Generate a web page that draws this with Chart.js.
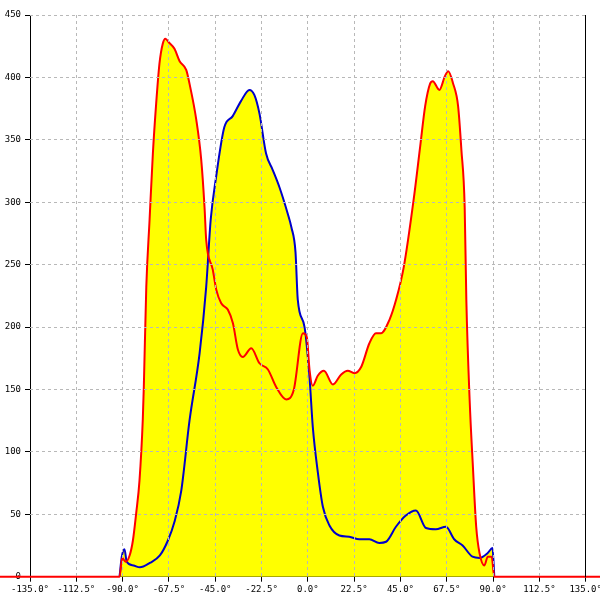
<!DOCTYPE html>
<html>
<head>
<meta charset="utf-8">
<script src="https://cdn.jsdelivr.net/npm/chart.js@4.4.1/dist/chart.umd.min.js"></script>
<style>
  html, body { margin: 0; padding: 0; background: #fff; }
  #wrap { width: 600px; height: 600px; }
</style>
</head>
<body>
<div id="wrap"><canvas id="myChart"></canvas></div>
<script>
// angles in degrees
let redAngles = [-180, -91.5, -90.2, -88.6, -86.6, -85, -83.4, -81.8, -80.2, -79.7, -78.5, -76.9, -75.3, -73.7, -72.1, -70.5, -69.2, -67.5, -64.8, -62.3, -59.1, -57.5, -54.2, -51.8, -50.2, -49.4, -46.2, -44.5, -42.1, -38.9, -36.4, -34, -31.6, -27.5, -23.5, -19.4, -15.4, -10.5, -6.8, -2.4, -0.5, 0.8, 2.4, 4.8, 7.8, 12.2, 16.2, 19.4, 22.6, 25.9, 29.9, 33.1, 35.5, 39.7, 42.9, 46.6, 51.4, 54.6, 57.0, 59.4, 60.7, 63.9, 66.6, 68.2, 70.6, 73.0, 74.6, 76.2, 77.0, 78.6, 80.2, 81.8, 83.4, 85.8, 87.4, 89.3, 90.6, 180];
let redValues = [0, 0, 15, 12, 17, 29, 51, 77, 126, 152, 232, 286, 339, 379, 411, 427, 431, 428, 423, 413, 406, 395, 366, 334, 296, 270, 246, 230, 219, 214, 203, 182, 176, 183, 171, 166, 152, 142, 150, 195, 192, 166, 153, 161, 165, 154, 162, 165, 163, 168, 187, 195, 195, 206, 222, 248, 302, 345, 377, 395, 397, 390, 401, 405, 395, 377, 342, 296, 222, 142, 88, 40, 19, 9, 16, 16, 0, 0];

let blueAngles = [-91.5, -90.4, -89.1, -88, -84.7, -81.6, -76.8, -71.9, -68, -64.8, -61.5, -57.5, -52.6, -49.4, -47.2, -44.6, -40.6, -36.5, -32.5, -28.4, -26, -23.5, -20.3, -17.1, -13.8, -9.8, -8, -6, -4.9, -1.6, 0.8, 2.4, 4.9, 7.3, 10.5, 15.3, 20.1, 25, 29.9, 34.7, 38, 42.8, 47.6, 52.5, 57.4, 62.2, 67.1, 71.1, 75.2, 80, 83.4, 87.4, 89.7, 90.6];
let blueValues = [0, 16, 22, 12, 9, 7.5, 11, 17, 29, 44, 69, 125, 179, 232, 286, 320, 360, 369, 381, 390, 386, 371, 339, 326, 312, 291, 280, 260, 222, 200, 160, 120, 83, 56, 41, 33, 32, 30, 30, 27, 28, 40, 49, 53, 39, 38, 40, 30, 25, 16, 15, 19, 23, 0];

let xMin = -135, xMax = 135, xStep = 22.5;
let yMin = 0, yMax = 450, yStep = 50;

let toPoints = (xs, ys) => xs.map((x, i) => ({ x: x, y: ys[i] }));

let gridGray = '#b8b8b8';
let clear = 'rgba(0,0,0,0)';
let tickFont = { family: 'DejaVu Sans Mono', size: 9 };

let ctx = document.getElementById('myChart').getContext('2d');

let myChart = new Chart(ctx, {
  type: 'line',
  data: {
    datasets: [{
      data: toPoints(redAngles, redValues),
      borderColor: '#ff0000',
      backgroundColor: '#ffff00',
      borderWidth: 2,
      fill: 'origin',
      pointRadius: 0,
      cubicInterpolationMode: 'monotone',
      clip: false
    }, {
      data: toPoints(blueAngles, blueValues),
      borderColor: '#0000cc',
      backgroundColor: '#ffff00',
      borderWidth: 2,
      fill: 'origin',
      pointRadius: 0,
      cubicInterpolationMode: 'monotone'
    }]
  },
  options: {
    responsive: true,
    maintainAspectRatio: false,
    animation: false,
    layout: { padding: { top: 15, right: 14.3, left: 0, bottom: 0 } },
    plugins: {
      legend: { display: false },
      tooltip: { enabled: false },
      filler: { drawTime: 'beforeDatasetsDraw' }
    },
    scales: {
      // main axes: labels, tick marks and solid axis lines under the data
      x: {
        type: 'linear',
        min: xMin,
        max: xMax,
        ticks: {
          stepSize: xStep,
          color: '#000',
          font: tickFont,
          padding: 3,
          maxRotation: 0,
          autoSkip: false,
          callback: (v) => v.toFixed(1) + '°'
        },
        grid: { drawOnChartArea: false, tickColor: '#000', tickLength: 5 },
        border: { color: '#000', width: 1 },
        afterFit: (s) => { s.height = 23.3; s.paddingLeft = 0; s.paddingRight = 0; }
      },
      y: {
        min: yMin,
        max: yMax,
        ticks: { stepSize: yStep, color: '#000', font: tickFont, padding: 4 },
        grid: { drawOnChartArea: false, tickColor: '#000', tickLength: 5 },
        border: { color: '#000', width: 1 },
        afterFit: (s) => { s.width = 30; s.paddingTop = 0; s.paddingBottom = 0; }
      },
      // helper axes: dashed grid drawn over the yellow fill
      xg: {
        type: 'linear',
        position: 'top',
        min: xMin,
        max: xMax,
        ticks: { display: false, stepSize: xStep, autoSkip: false },
        grid: {
          z: 1,
          drawTicks: false,
          color: (c) => (c.tick && (c.tick.value === xMin || c.tick.value === xMax)) ? clear : gridGray
        },
        border: { display: false, dash: [3, 3] },
        afterFit: (s) => { s.height = 0; s.paddingLeft = 0; s.paddingRight = 0; }
      },
      y2: {
        position: 'right',
        min: yMin,
        max: yMax,
        ticks: { display: false, stepSize: yStep },
        grid: {
          z: 1,
          drawTicks: false,
          color: (c) => (c.tick && c.tick.value === yMin) ? clear : gridGray
        },
        border: { color: '#000', width: 1, z: 1, dash: [3, 3] },
        afterFit: (s) => { s.width = 0; s.paddingTop = 0; s.paddingBottom = 0; }
      }
    }
  }
});
</script>
</body>
</html>
